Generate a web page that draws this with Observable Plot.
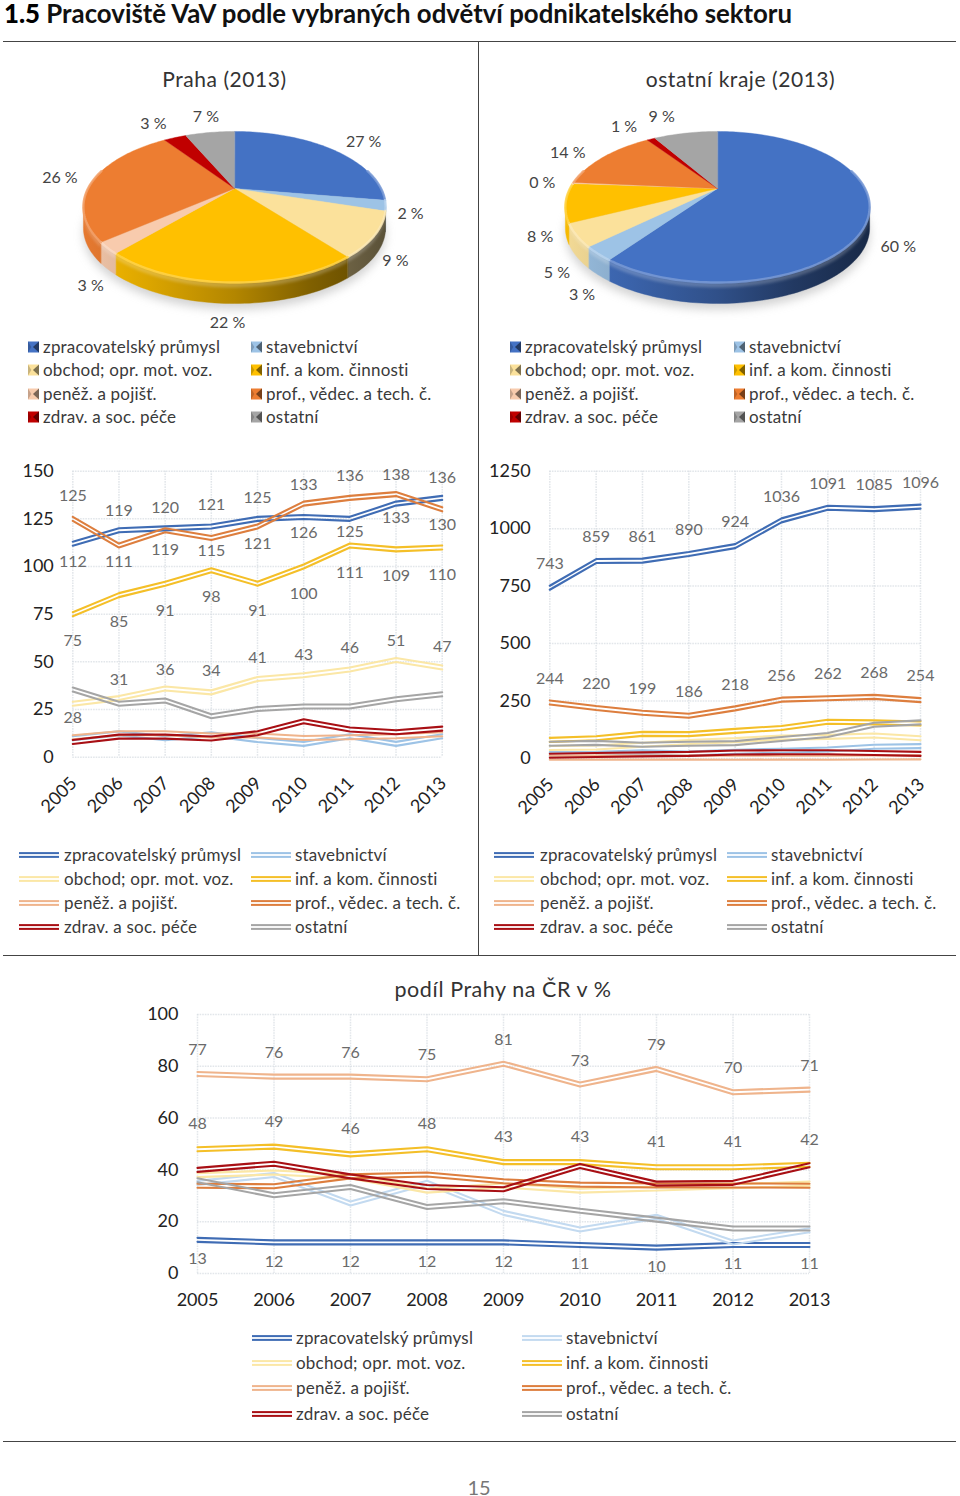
<!doctype html>
<html lang="cs">
<head>
<meta charset="utf-8">
<script src="https://cdn.jsdelivr.net/npm/d3@7"></script>
<script src="https://cdn.jsdelivr.net/npm/@observablehq/plot@0.6"></script>
<style>
  html, body { margin: 0; padding: 0; background: #fff; }
  #page { position: relative; width: 960px; height: 1496px; overflow: hidden; font-family: Lato, sans-serif; color: #333; }
  #page > svg, #page > figure { position: absolute; margin: 0; overflow: visible; }
  .t { position: absolute; white-space: nowrap; transform: translateY(-50%); line-height: 1.3; }
  .c { transform: translate(-50%, -50%); }
  .rule { position: absolute; background: #444; }
  .sw { position: absolute; transform: translateY(-50%); display: block; }
</style>
</head>
<body>
<div id="page"></div>
<script>
const years = [2005, 2006, 2007, 2008, 2009, 2010, 2011, 2012, 2013];
const categories = ["zpracovatelský průmysl", "stavebnictví", "obchod; opr. mot. voz.", "inf. a kom. činnosti", "peněž. a pojišť.", "prof., vědec. a tech. č.", "zdrav. a soc. péče", "ostatní"];
const legendLeft = ["zpracovatelský průmysl", "obchod; opr. mot. voz.", "peněž. a pojišť.", "zdrav. a soc. péče"];
const legendRight = ["stavebnictví", "inf. a kom. činnosti", "prof., vědec. a tech. č.", "ostatní"];

// Praha, counts
const prahaZprac = [112, 119, 120, 121, 125, 126, 125, 133, 136];
const prahaStav = [10, 12.5, 10, 12, 9, 7, 11, 7, 11];
const prahaObchod = [28, 31, 36, 34, 41, 43, 46, 51, 47];
const prahaInf = [75, 85, 91, 98, 91, 100, 111, 109, 110];
const prahaPenez = [10.5, 12.6, 12.6, 11.4, 11.4, 10.1, 10.5, 11, 12];
const prahaProf = [125, 111, 119, 115, 121, 133, 136, 138, 130];
const prahaZdrav = [8, 10.8, 10.8, 9.8, 12.6, 18.9, 14.5, 13.1, 15];
const prahaOst = [35.5, 28, 29.7, 21.5, 25.3, 26.6, 26.6, 30.4, 33];

// ostatní kraje, counts
const krajeZprac = [743, 859, 861, 890, 924, 1036, 1091, 1085, 1096];
const krajeStav = [19, 20, 27, 22, 29, 34, 39, 51, 54];
const krajeObchod = [46, 48, 60, 72, 80, 91, 94, 100, 88];
const krajeInf = [81, 88, 107, 106, 120, 133, 160, 157, 152];
const krajePenez = [3, 4, 4, 4, 3, 4, 3, 4.5, 5];
const krajeProf = [244, 220, 199, 186, 218, 256, 262, 268, 254];
const krajeZdrav = [12, 15, 18, 20, 26, 27, 27, 24, 20];
const krajeOst = [64, 68, 60, 64, 67, 85, 102, 147, 157];

// podíl Prahy na ČR v %
const podilZprac = [13, 12, 12, 12, 12, 11, 10, 11, 11];
const podilStav = [35, 38, 27, 35, 23.4, 17, 21.9, 12, 16.7];
const podilObchod = [38, 39, 37.5, 32, 34, 32, 32.8, 33.7, 34.7];
const podilInf = [48, 49, 46, 48, 43, 43, 41, 41, 42];
const podilPenez = [77, 76, 76, 75, 81, 73, 79, 70, 71];
const podilProf = [33.9, 33.7, 37.5, 38.2, 35.6, 34.3, 34, 34, 33.9];
const podilZdrav = [40, 42.4, 37.5, 33.4, 32.5, 41.5, 34.7, 35, 41.8];
const podilOst = [36, 30.2, 33.4, 25.7, 27.9, 24.2, 20.8, 17.4, 17.4];

// printed percentages on the two pies
const pieLabelsPraha = ["27 %", "2 %", "9 %", "22 %", "3 %", "26 %", "3 %", "7 %"];
const pieLabelsKraje = ["60 %", "3 %", "5 %", "8 %", "0 %", "14 %", "1 %", "9 %"];

// presentation
const pieColors = ["#4472c4", "#9dc3e6", "#fbe19b", "#ffc000", "#f8cbad", "#ed7d31", "#c00000", "#a5a5a5"];
const lineColors = ["#3f6cb4", "#9dc3e6", "#fbe7a6", "#f4bf28", "#efb48c", "#dd7e3e", "#a80f14", "#a5a5a5"];
const paleBlue = "#c3daf0";
const font = "Lato, sans-serif";
const page = document.getElementById("page");

function text(str, x, y, size, opts = {}) {
  const el = document.createElement("div");
  el.className = "t" + (opts.center ? " c" : "");
  el.textContent = str;
  el.style.left = x + "px"; el.style.top = y + "px"; el.style.fontSize = size + "px";
  if (opts.color) el.style.color = opts.color;
  if (opts.weight) el.style.fontWeight = opts.weight;
  if (opts.spacing != null) el.style.letterSpacing = opts.spacing + "px";
  if (opts.lineHeight) el.style.lineHeight = opts.lineHeight;
  page.appendChild(el);
  return el;
}
function rule(x, y, w, h) {
  const el = document.createElement("div");
  el.className = "rule";
  Object.assign(el.style, { left: x + "px", top: y + "px", width: w + "px", height: h + "px" });
  page.appendChild(el);
}
function place(node, x, y) { node.style.left = x + "px"; node.style.top = y + "px"; page.appendChild(node); return node; }

const scaleRGB = (c, k) => { const r = d3.rgb(c); return d3.rgb(r.r * k, r.g * k, r.b * k).formatHex(); };

// ---- Pies -----------------------------------------------------------------
const persp = 0.245, pieH = 71, wallPx = 21, pieTop = 100, svgH = 240, svgW = 478, apexY = 88;
function project(deg) {
  const a = deg * Math.PI / 180, X = Math.sin(a), Z = -Math.cos(a), d = 1 - persp * Z;
  return { u: X / d, v: Z / d };
}
function arcPoints(a0, a1) {
  const out = [], n = Math.max(2, Math.ceil((a1 - a0) / 1.5));
  for (let i = 0; i <= n; i++) out.push(project(a0 + (a1 - a0) * i / n));
  return out;
}
function pie(values, labels, nudges, left, cx, R, key) {
  const total = d3.sum(values);
  const wallV = wallPx / pieH;
  let acc = 0;
  const slices = values.map((val, i) => {
    const a0 = acc / total * 360; acc += val; const a1 = acc / total * 360;
    return { i, a0, a1, mid: (a0 + a1) / 2, color: pieColors[i], label: labels[i] };
  });
  const vis0 = 104.2, vis1 = 255.8;
  const defs = () => {
    const ns = "http://www.w3.org/2000/svg";
    const d = document.createElementNS(ns, "defs");
    slices.forEach(s => {
      const g = document.createElementNS(ns, "linearGradient");
      g.setAttribute("id", `wall-${key}-${s.i}`);
      g.setAttribute("gradientUnits", "userSpaceOnUse");
      g.setAttribute("x1", cx - 152); g.setAttribute("x2", cx + 152);
      g.setAttribute("y1", 0); g.setAttribute("y2", 0);
      [[0, .97], [.22, .86], [.5, .7], [.75, .5], [1, .36]].forEach(([o, k]) => {
        const st = document.createElementNS(ns, "stop");
        st.setAttribute("offset", o); st.setAttribute("stop-color", scaleRGB(s.color, k));
        d.appendChild(g).appendChild(st);
      });
    });
    return d;
  };
  const marks = [defs];
  // soft ground shadow
  const ground = arcPoints(0, 360).map(p => ({ u: p.u * 1.0, v: p.v + wallV + 6 / pieH }));
  marks.push(Plot.line(ground, { x: "u", y: "v", fill: "#8c8c8c", stroke: "none", fillOpacity: 0.38, curve: "linear-closed", imageFilter: "blur(5px)" }));
  // side wall
  slices.forEach(s => {
    const a0 = Math.max(s.a0, vis0), a1 = Math.min(s.a1, vis1);
    if (a1 <= a0) return;
    const top = arcPoints(a0, a1);
    const poly = top.concat(top.slice().reverse().map(p => ({ u: p.u, v: p.v + wallV })));
    const url = `url(#wall-${key}-${s.i})`;
    marks.push(Plot.line(poly, { x: "u", y: "v", fill: url, stroke: url, strokeWidth: 0.4, curve: "linear-closed" }));
    // lit bevel just under the rim
    const band = top.concat(top.slice().reverse().map(p => ({ u: p.u, v: p.v + 5 / pieH })));
    marks.push(Plot.line(band, { x: "u", y: "v", fill: "#fff", stroke: "none", fillOpacity: 0.22, curve: "linear-closed", imageFilter: "blur(1.5px)" }));
  });
  // top surface
  slices.forEach(s => {
    const poly = [{ u: 0, v: 0 }].concat(arcPoints(s.a0, s.a1));
    marks.push(Plot.line(poly, { x: "u", y: "v", fill: s.color, stroke: s.color, strokeWidth: 0.4, curve: "linear-closed" }));
  });
  // rim highlight
  slices.forEach(s => {
    const a0 = Math.max(s.a0, 75), a1 = Math.min(s.a1, 285);
    if (a1 <= a0) return;
    const bright = d3.interpolateRgb(s.color, "#fff")(0.28);
    marks.push(Plot.line(arcPoints(a0, a1), { x: "u", y: "v", stroke: bright, strokeWidth: 2.4, strokeOpacity: .85, imageFilter: "blur(0.7px)" }));
  });
  // printed labels, anchored on the rim at each slice's middle
  slices.forEach((s, i) => {
    const p = project(s.mid);
    marks.push(Plot.text([s], { x: () => p.u, y: () => p.v, text: "label", dx: nudges[i][0], dy: nudges[i][1], fontSize: 16, fill: "#444", stroke: "none" }));
  });
  const svg = Plot.plot({
    width: svgW, height: svgH, marginTop: 0, marginRight: 0, marginBottom: 0, marginLeft: 0,
    style: { fontFamily: font, background: "transparent", overflow: "visible" },
    x: { domain: [-cx / R, (svgW - cx) / R], range: [0, svgW], axis: null },
    y: { domain: [-apexY / pieH, (svgH - apexY) / pieH], range: [0, svgH], axis: null },
    marks
  });
  return place(svg, left, pieTop);
}

// ---- Line charts ----------------------------------------------------------
const seriesRows = vals => vals.map((value, i) => ({ year: years[i], value }));
function lineChart({ left, top, width, height, mL, mR, mT, mB, domain, ticks, series, colors, labels, rotate, gap }) {
  const marks = [
    Plot.gridY(ticks, { stroke: "#d8dde3", strokeWidth: 1.5, strokeOpacity: .75, strokeDasharray: "1.6 1" }),
    Plot.gridX(years, { stroke: "#d8dde3", strokeWidth: 1.5, strokeOpacity: .75, strokeDasharray: "1.6 1" }),
    Plot.axisY({ ticks, tickFormat: "d", tickSize: 0, tickPadding: 19, fontSize: 18, color: "#222", label: null, anchor: "left" }),
    Plot.axisX({
      ticks: years, tickFormat: "d", tickSize: 0, fontSize: 18, color: "#222", label: null, anchor: "bottom",
      ...(rotate ? { tickRotate: -45, tickPadding: 5, dx: 1, dy: 18 } : { tickPadding: 20 })
    })
  ];
  series.forEach((vals, i) => {
    const rows = seriesRows(vals);
    [-gap, gap].forEach(dy => marks.push(Plot.line(rows, { x: "year", y: "value", stroke: colors[i], strokeWidth: 2.1, dy, strokeLinejoin: "miter" })));
  });
  labels.forEach(({ vals, nudge }) => {
    seriesRows(vals).forEach((r, k) => {
      const dy = Array.isArray(nudge) ? nudge[k] : nudge;
      marks.push(Plot.text([r], { x: "year", y: "value", text: d => String(d.value), dy, fontSize: 16, fill: "#6a6a6a", stroke: "none" }));
    });
  });
  const svg = Plot.plot({
    width, height, marginLeft: mL, marginRight: mR, marginTop: mT, marginBottom: mB,
    style: { fontFamily: font, background: "transparent", overflow: "visible" },
    x: { type: "linear", domain: [2005, 2013] },
    y: { domain },
    marks
  });
  return place(svg, left, top);
}

// ---- Legends --------------------------------------------------------------
function bevelSwatch(color, x, y) {
  const s = 11;
  const svg = d3.create("svg").attr("class", "sw").attr("width", s).attr("height", s);
  svg.append("rect").attr("width", s).attr("height", s).attr("fill", color);
  svg.append("path").attr("d", `M${s} 0L${s * .45} ${s / 2}L${s} ${s}Z`).attr("fill", scaleRGB(color, .5));
  svg.append("path").attr("d", `M0 0L${s * .3} ${s / 2}L0 ${s}Z`).attr("fill", scaleRGB(color, .8));
  place(svg.node(), x, y);
}
function doubleSwatch(color, x, y) {
  const svg = d3.create("svg").attr("class", "sw").attr("width", 40).attr("height", 7);
  svg.append("rect").attr("x", 0).attr("y", .6).attr("width", 40).attr("height", 2).attr("fill", color);
  svg.append("rect").attr("x", 0).attr("y", 4.4).attr("width", 40).attr("height", 2).attr("fill", color);
  place(svg.node(), x, y);
}
const idx = name => categories.indexOf(name);
function pieLegend(x1, x2, ys) {
  legendLeft.forEach((n, k) => { bevelSwatch(pieColors[idx(n)], x1, ys[k]); text(n, x1 + 15, ys[k], 17, { spacing: .2, color: "#3a3a3a" }); });
  legendRight.forEach((n, k) => { bevelSwatch(pieColors[idx(n)], x2, ys[k]); text(n, x2 + 15, ys[k], 17, { spacing: .2, color: "#3a3a3a" }); });
}
function lineLegend(x1, tx1, x2, tx2, ys, colors) {
  legendLeft.forEach((n, k) => { doubleSwatch(colors[idx(n)], x1, ys[k]); text(n, tx1, ys[k], 17, { spacing: .2, color: "#3a3a3a" }); });
  legendRight.forEach((n, k) => { doubleSwatch(colors[idx(n)], x2, ys[k]); text(n, tx2, ys[k], 17, { spacing: .2, color: "#3a3a3a" }); });
}

// ---- Page -----------------------------------------------------------------
const title = text("", 4, 13, 25.8, { weight: 700, color: "#111", lineHeight: 0.95 });
title.innerHTML = '<span style="font-weight:900;color:#000">1.5</span> Pracoviště VaV podle vybraných odvětví podnikatelského sektoru';
rule(3, 41, 953, 1.4);
rule(478, 42, 1.2, 913);
rule(3, 955, 953, 1.3);
rule(3, 1441, 953, 1.3);

text("Praha (2013)", 224.5, 79, 21, { center: true, spacing: .55, color: "#333" });
text("ostatní kraje (2013)", 740.5, 79, 21, { center: true, spacing: .55, color: "#333" });
text("podíl Prahy na ČR v %", 503, 990, 21.5, { center: true, spacing: .55, color: "#333" });
text("15", 479, 1487, 20, { center: true, color: "#777", lineHeight: 0.8 });

const lastOf = arr => arr[arr.length - 1];
const prahaSeries = [prahaZprac, prahaStav, prahaObchod, prahaInf, prahaPenez, prahaProf, prahaZdrav, prahaOst];
const krajeSeries = [krajeZprac, krajeStav, krajeObchod, krajeInf, krajePenez, krajeProf, krajeZdrav, krajeOst];
const podilSeries = [podilZprac, podilStav, podilObchod, podilInf, podilPenez, podilProf, podilZdrav, podilOst];

pie(prahaSeries.map(lastOf), pieLabelsPraha,
  [[33, -7], [25, 8], [20.5, 25.7], [-2, 40], [-17, 38], [-34, -1], [-21.6, -14], [-4, -16]], 0, 234, 146.5, "a");
pie(krajeSeries.map(lastOf), pieLabelsKraje,
  [[29, 35], [-16, 41], [-19.5, 38], [-25.5, 34], [-31, 0], [-36, -4], [-27, -12], [-24, -16]], 480, 237, 147.5, "b");
pieLegend(28, 251, [346.5, 370, 393.5, 416.5]);
pieLegend(510, 734, [346.5, 370, 393.5, 416.5]);

lineChart({
  left: 0, top: 450, width: 478, height: 380, mL: 72.3, mR: 36.3, mT: 20.7, mB: 73.3,
  domain: [0, 150], ticks: [0, 25, 50, 75, 100, 125, 150], series: prahaSeries, colors: lineColors, gap: 2, rotate: true,
  labels: [
    { vals: prahaZprac, nudge: [18.7, -19, -21, -22, -21, 16, 12.7, 14, -20] },
    { vals: prahaProf, nudge: [-23, 16, 20, 13, 17, -19, -22, -19.5, 16] },
    { vals: prahaInf, nudge: 27 },
    { vals: prahaObchod, nudge: [14.4, -18.6, -19, -21, -21, -20.7, -21.5, -18.7, -21] }
  ]
});
lineChart({
  left: 480, top: 450, width: 480, height: 380, mL: 69.3, mR: 40, mT: 20.7, mB: 72,
  domain: [0, 1250], ticks: [0, 250, 500, 750, 1000, 1250], series: krajeSeries, colors: lineColors, gap: 2, rotate: true,
  labels: [{ vals: krajeZprac, nudge: -24 }, { vals: krajeProf, nudge: -24 }]
});
lineLegend(19, 64, 251, 295, [854.5, 878.5, 902.5, 926.5], lineColors);
lineLegend(494, 540, 727, 771, [854.5, 878.5, 902.5, 926.5], lineColors);

const podilColors = lineColors.map((c, i) => i === 1 ? paleBlue : c);
lineChart({
  left: 0, top: 1000, width: 960, height: 310, mL: 197, mR: 151, mT: 14, mB: 37,
  domain: [0, 100], ticks: [0, 20, 40, 60, 80, 100], series: podilSeries, colors: podilColors, gap: 2, rotate: false,
  labels: [{ vals: podilPenez, nudge: -24 }, { vals: podilInf, nudge: -25 }, { vals: podilZprac, nudge: 19 }]
});
lineLegend(252, 296, 522, 566, [1337.5, 1362.5, 1387.5, 1413.5], podilColors);
</script>
</body>
</html>
